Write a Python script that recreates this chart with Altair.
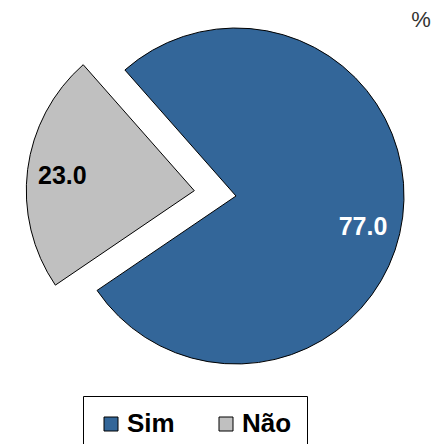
import math
import altair as alt
import pandas as pd

cats = ["Sim", "Não"]
vals = [77.0, 23.0]
colors = ["#336699", "#C0C0C0"]
label_colors = ["white", "black"]
order = [0, 1]

df = pd.DataFrame({"cat": cats, "val": vals, "ord": order,
                   "lab": [f"{v:.1f}" for v in vals], "lc": label_colors})

total = sum(vals)
start = math.radians(318.6)
tscale = alt.Scale(domain=[0, total], range=[start, start + 2 * math.pi])
color = alt.Color(
    "cat:N",
    scale=alt.Scale(domain=cats, range=colors),
    legend=alt.Legend(
        title=None, orient="none", legendX=75, legendY=388,
        direction="horizontal", symbolType="square", symbolSize=196,
        symbolStrokeColor="black", symbolStrokeWidth=1, symbolOpacity=1,
        labelFont="Liberation Sans", labelFontSize=26, labelFontWeight="bold",
        labelColor="black", strokeColor="black", padding=15,
        columnPadding=38, labelOffset=3,
    ),
)

base = (
    alt.Chart(df)
    .transform_stack(stack="val", groupby=[], as_=["v0", "v1"],
                     sort=[alt.SortField("ord", order="ascending")])
    .transform_calculate(mid="(datum.v0 + datum.v1) / 2")
)

centers = {"Sim": (228, 188), "Não": (186.3, 182.7)}
label_r = {"Sim": 128, "Não": 133}
label_dy = {"Sim": 15, "Não": 2}

layers = []
for c in cats:
    cx, cy = centers[c]
    sub = base.transform_filter(alt.datum.cat == c)
    arc = sub.mark_arc(radius=168, stroke="black", strokeWidth=1).encode(
        theta=alt.Theta("v0:Q", scale=tscale),
        theta2="v1:Q",
        color=color,
        x=alt.value(cx), y=alt.value(cy),
    )
    layers.append(arc)
for c in cats:
    cx, cy = centers[c]
    sub = base.transform_filter(alt.datum.cat == c)
    txt = sub.mark_text(radius=label_r[c], font="Liberation Sans", fontSize=25,
                        fontWeight="bold", dy=label_dy[c]).encode(
        theta=alt.Theta("mid:Q", scale=tscale),
        text="lab:N",
        color=alt.Color("lc:N", scale=None),
        x=alt.value(cx), y=alt.value(cy),
    )
    layers.append(txt)

pct = alt.Chart(pd.DataFrame({"t": ["%"]})).mark_text(
    font="Liberation Sans", fontSize=22, color="#333333"
).encode(text="t:N", x=alt.value(413), y=alt.value(12))
layers.append(pct)

chart = (
    alt.layer(*layers)
    .resolve_scale(theta="shared")
    .properties(width=430, height=436, autosize="none", padding=0)
    .configure_view(stroke=None)
)

chart.save("out.html", embed_options={"renderer": "svg", "actions": False})
